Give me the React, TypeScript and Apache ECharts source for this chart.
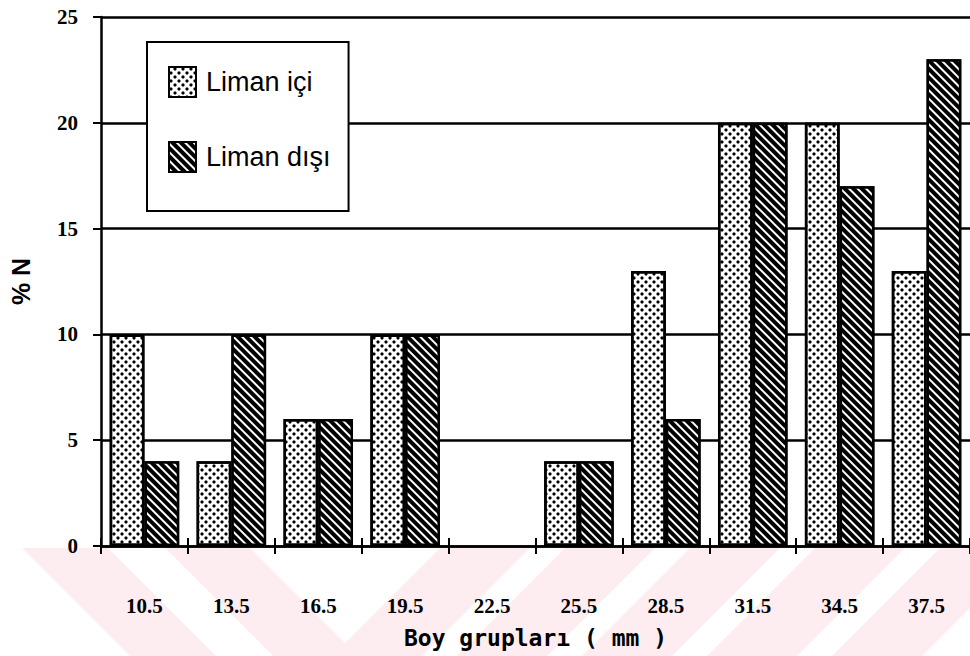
import React, { useEffect, useRef } from "react";
import * as echarts from "echarts";

// Length groups (mm) and percentage frequencies per station
const categories = ["10.5", "13.5", "16.5", "19.5", "22.5", "25.5", "28.5", "31.5", "34.5", "37.5"];
const limanIci = [10, 4, 6, 10, 0, 4, 13, 20, 20, 13];
const limanDisi = [4, 10, 6, 10, 0, 4, 6, 20, 17, 23];
const yTicks = [0, 5, 10, 15, 20, 25];

// Faint pink diagonal bands of the printed background under the axis
const bandTops: Array<[number, number, number]> = [
  // [left x at top, right x at top, horizontal drift to bottom]
  [22, 108, 108],
  [165, 250, 108],
  [440, 530, -108],
  [565, 655, -108],
  [690, 780, -108],
  [815, 905, -108],
  [940, 1030, -108],
];

const serifBold = "'Liberation Serif', 'DejaVu Serif', serif";

// Empty classes get no outline so the axis line stays clean there
const withEmptyOutline = (values: number[]) =>
  values.map((v) => (v === 0 ? { value: v, itemStyle: { borderWidth: 0 } } : v));

export default function App() {
  const ref = useRef<HTMLDivElement>(null);

  useEffect(() => {
    if (!ref.current) return;
    const chart = echarts.init(ref.current, undefined, { renderer: "svg" });

    const bandTopY = 548;
    const bandBottomY = 656;
    const bands = bandTops.map(([l, r, d]) => ({
      type: "polygon",
      silent: true,
      z: -10,
      shape: {
        points: [
          [l, bandTopY],
          [r, bandTopY],
          [r + d, bandBottomY],
          [l + d, bandBottomY],
        ],
      },
      style: { fill: "#fdedf0" },
    }));

    chart.setOption({
      animation: false,
      backgroundColor: "#fff",
      graphic: bands,
      grid: { left: 101, right: -2, top: 17, bottom: 110, containLabel: false },
      legend: {
        orient: "vertical",
        left: 147,
        top: 42,
        padding: [24, 18, 38, 21],
        borderColor: "#000",
        borderWidth: 2,
        backgroundColor: "#fff",
        icon: "rect",
        itemWidth: 27,
        itemHeight: 30,
        itemGap: 43,
        textStyle: {
          fontSize: 27,
          fontFamily: "'Liberation Sans', Arial, sans-serif",
          color: "#000",
          padding: [6, 0, 0, 5],
        },
      },
      xAxis: [
        {
          type: "category",
          data: categories,
          position: "bottom",
          name: "Boy grupları ( mm )",
          nameLocation: "middle",
          nameGap: 80,
          nameTextStyle: {
            fontSize: 23,
            fontWeight: "bold",
            fontFamily: "'DejaVu Sans Mono', 'Liberation Mono', monospace",
            color: "#000",
          },
          axisLine: { lineStyle: { color: "#000", width: 2.5 } },
          axisTick: { show: true, length: 8, lineStyle: { color: "#000", width: 2 } },
          axisLabel: {
            margin: 49,
            fontSize: 21,
            fontWeight: "bold",
            fontFamily: serifBold,
            color: "#000",
          },
        },
        {
          type: "category",
          data: categories,
          position: "bottom",
          axisLine: { show: false },
          axisTick: { show: true, inside: true, length: 8, lineStyle: { color: "#000", width: 2 } },
          axisLabel: { show: false },
        },
      ],
      yAxis: {
        type: "value",
        min: 0,
        max: 25,
        interval: 5,
        name: "% N",
        nameLocation: "middle",
        nameGap: 68,
        nameTextStyle: {
          fontSize: 25,
          fontWeight: "bold",
          fontFamily: "'Liberation Sans', Arial, sans-serif",
          color: "#000",
        },
        axisLine: { show: true, lineStyle: { color: "#000", width: 2.5 } },
        axisTick: { show: true, length: 8, lineStyle: { color: "#000", width: 2 } },
        splitLine: { show: true, lineStyle: { color: "#000", width: 2.5 } },
        axisLabel: {
          margin: 23,
          fontSize: 21,
          fontWeight: "bold",
          fontFamily: serifBold,
          color: "#000",
          customValues: yTicks,
        },
      },
      series: [
        {
          name: "Liman içi",
          type: "bar",
          data: withEmptyOutline(limanIci),
          barGap: "0%",
          barCategoryGap: "20%",
          itemStyle: {
            color: "#fff",
            borderColor: "#000",
            borderWidth: 2.5,
            decal: {
              symbol: "circle",
              symbolSize: 0.8,
              color: "#000",
              backgroundColor: null,
              dashArrayX: [
                [4, 4],
                [0, 4, 4, 0],
              ],
              dashArrayY: [4, 0],
            },
          },
        },
        {
          name: "Liman dışı",
          type: "bar",
          data: withEmptyOutline(limanDisi),
          barGap: "0%",
          barCategoryGap: "20%",
          itemStyle: {
            color: "#000",
            borderColor: "#000",
            borderWidth: 2.5,
            decal: {
              symbol: "rect",
              symbolSize: 1,
              color: "#fff",
              backgroundColor: null,
              dashArrayX: [1, 0],
              dashArrayY: [1.5, 3.5],
              rotation: Math.PI / 4,
            },
          },
        },
      ],
    });

    return () => chart.dispose();
  }, []);

  return <div ref={ref} style={{ width: 970, height: 656, position: "absolute", left: 0, top: 0 }} />;
}
